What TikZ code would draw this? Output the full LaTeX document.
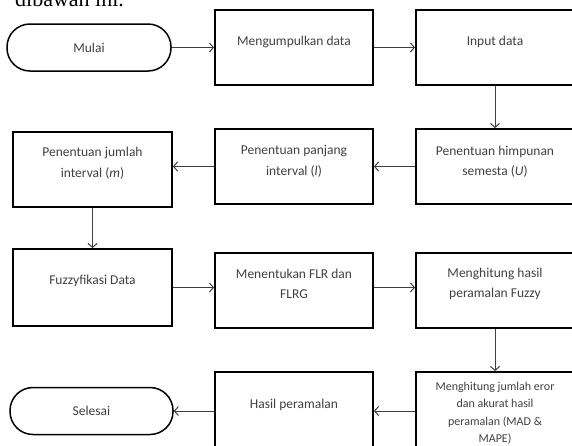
\documentclass[tikz,border=0pt]{standalone}
\usepackage{fontspec}
\setmainfont{Carlito}
\newfontfamily\serifhead{Liberation Serif}
\usetikzlibrary{arrows.meta,calc}
\begin{document}
\begin{tikzpicture}[x=1pt,y=-1pt,
  boxst/.style={draw=black,line width=1.8pt,inner sep=0pt,minimum width=158pt,minimum height=75pt},
  termst/.style={draw=black,line width=1.5pt,rounded corners=23pt,inner sep=0pt,minimum width=164pt,minimum height=47pt,
     text=black!75,font=\fontsize{13.5}{20.5}\selectfont},
  txt/.style={text=black!75,align=center,inner sep=0pt,font=\fontsize{13.5}{20.5}\selectfont},
  smalltxt/.style={text=black!75,align=center,inner sep=0pt,font=\fontsize{12}{17.5}\selectfont},
  arr/.style={draw=black!75,line width=1pt,-{Straight Barb[length=4pt,width=9pt]}}]
\useasboundingbox (0,0) rectangle (572,445);
\clip (0,0) rectangle (572,445);

\node[anchor=base west,inner sep=0pt,font=\serifhead\fontsize{22}{22}\selectfont] (title) at (15,6) {dibawah ini.};

% row 1
\node[termst] (mulai) at (89,47.5) {Mulai};
\node[boxst] (collect) at (294,47.5) {};
\node[boxst] (input) at (495,47.5) {};
\node[txt] (collect-t) at (294,42) {Mengumpulkan data};
\node[txt] (input-t) at (495,42) {Input data};

% row 2
\node[boxst] (himp) at (495,166.5) {};
\node[boxst] (panjang) at (294,166.5) {};
\node[boxst,minimum width=159pt] (jumlah) at (92.5,169.5) {};
\node[txt] (himp-t) at (495,161.5) {Penentuan himpunan\\semesta (\textit{U})};
\node[txt] (panjang-t) at (294,161.5) {Penentuan panjang\\interval (\textit{l})};
\node[txt] (jumlah-t) at (92.5,163) {Penentuan jumlah\\interval (\textit{m})};

% row 3
\node[boxst,minimum width=159pt,minimum height=77pt] (fuzzy) at (92.5,287.5) {};
\node[boxst] (flr) at (294,290.5) {};
\node[boxst] (hasilf) at (495,290.5) {};
\node[txt] (fuzzy-t) at (92.5,281) {Fuzzyfikasi Data};
\node[txt] (flr-t) at (294,284) {Menentukan FLR dan\\FLRG};
\node[txt] (hasilf-t) at (495,284) {Menghitung hasil\\peramalan Fuzzy};

% row 4
\node[boxst,minimum height=100pt] (jumlaherr) at (495,422) {};
\node[boxst,minimum height=100pt] (hasil) at (294,422) {};
\node[termst,minimum width=163pt] (selesai) at (91.5,411) {Selesai};
\node[smalltxt] (jumlaherr-t) at (495,413) {Menghitung jumlah eror\\dan akurat hasil\\peramalan (MAD \&\\MAPE)};
\node[txt] (hasil-t) at (294,405) {Hasil peramalan};

% connectors
\draw[arr] (mulai) -- (collect);
\draw[arr] (collect) -- (input);
\draw[arr] (input) -- (himp);
\draw[arr] (himp) -- (panjang);
\draw[arr] (panjang.west) -- (panjang.west -| jumlah.east);
\draw[arr] (jumlah) -- (fuzzy);
\draw[arr] (fuzzy.east) -- (fuzzy.east -| flr.west);
\draw[arr] (flr.east |- fuzzy.east) -- (hasilf.west |- fuzzy.east);
\draw[arr] (hasilf) -- (jumlaherr);
\draw[arr] (jumlaherr.west |- selesai.east) -- (hasil.east |- selesai.east);
\draw[arr] (hasil.west |- selesai.east) -- (selesai.east);
\end{tikzpicture}
\end{document}
